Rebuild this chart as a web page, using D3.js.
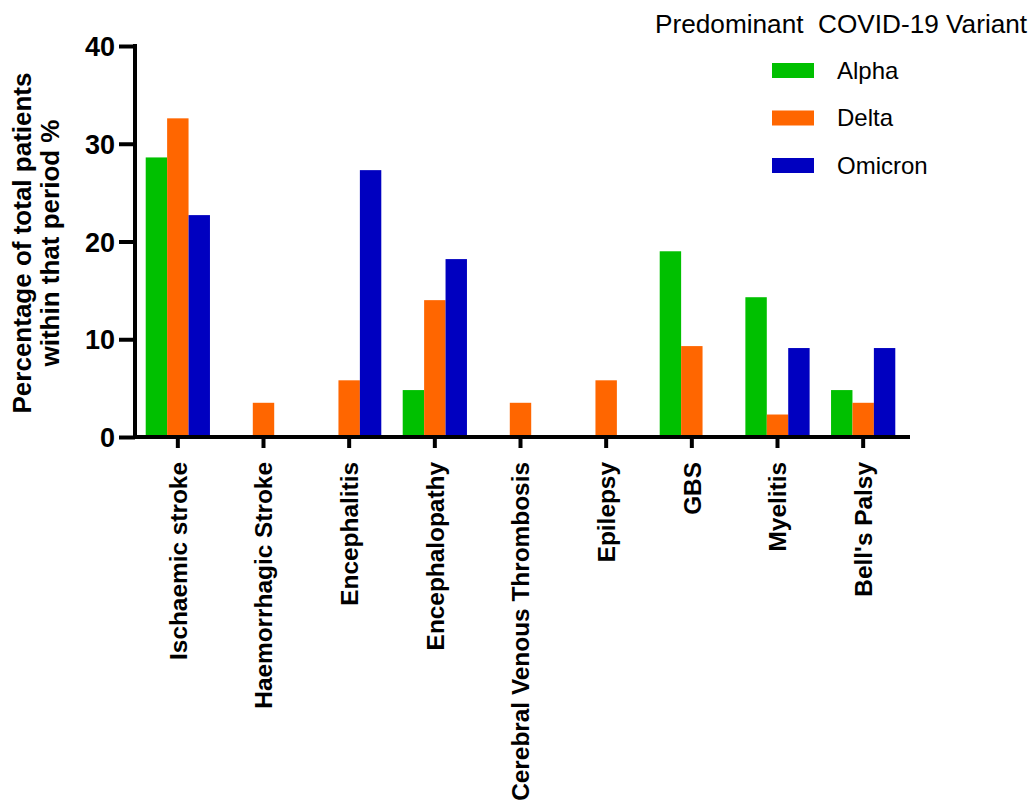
<!DOCTYPE html>
<html><head><meta charset="utf-8">
<script src="https://cdn.jsdelivr.net/npm/d3@7"></script>
<style>body{margin:0;background:#fff;} text{font-family:"Liberation Sans",Arial,sans-serif;}</style>
</head><body><svg id="c" width="1035" height="805"></svg>
<script>
const categories = ["Ischaemic stroke","Haemorrhagic Stroke","Encephalitis","Encephalopathy","Cerebral Venous Thrombosis","Epilepsy","GBS","Myelitis","Bell's Palsy"];
const seriesNames = ["Alpha","Delta","Omicron"];
const alpha = [28.6, 0, 0, 4.8, 0, 0, 19.0, 14.3, 4.8];
const delta = [32.6, 3.5, 5.8, 14.0, 3.5, 5.8, 9.3, 2.3, 3.5];
const omicron = [22.7, 0, 27.3, 18.2, 0, 0, 0, 9.1, 9.1];
const yTicks = [0, 10, 20, 30, 40];
const colors = ["#00C000", "#FF6600", "#0000C0"];
const legendTitle = "Predominant  COVID-19 Variant";
const yTitle = ["Percentage of total patients", "within that period %"];

const series = [alpha, delta, omicron];
const svg = d3.select("#c");
const pL = 135, pR = 906, pT = 46, pB = 437;

const x = d3.scaleBand().domain(categories).range([pL, pR]).paddingInner(0.25).paddingOuter(0.125);
const xs = d3.scaleBand().domain(seriesNames).range([0, x.bandwidth()]);
const y = d3.scaleLinear().domain([0, 40]).range([pB, pT]);

// bars
categories.forEach((c, i) => {
  series.forEach((s, j) => {
    if (s[i] > 0) {
      svg.append("rect")
        .attr("x", x(c) + xs(seriesNames[j]))
        .attr("y", y(s[i]))
        .attr("width", xs.bandwidth())
        .attr("height", y(0) - y(s[i]))
        .attr("fill", colors[j]);
    }
  });
});

// y axis
const ya = svg.append("g").attr("transform", `translate(${pL},0)`)
  .call(d3.axisLeft(y).tickValues(yTicks).tickSize(16).tickPadding(4).tickFormat(d3.format("d")));
ya.select(".domain").attr("stroke", "#000").attr("stroke-width", 4).attr("d", `M0,${pB+2}V${pT-2}`);
ya.selectAll(".tick line").attr("stroke", "#000").attr("stroke-width", 4);
ya.selectAll(".tick text").attr("font-size", 27).attr("font-weight", "bold").attr("fill", "#000")
  .attr("font-family", "Liberation Sans, Arial, sans-serif").attr("dy", "0.36em");

// x axis
const xa = svg.append("g").attr("transform", `translate(0,${pB})`)
  .call(d3.axisBottom(x).tickSize(11).tickPadding(8));
xa.select(".domain").attr("stroke", "#000").attr("stroke-width", 4).attr("d", `M${pL-2},0H${pR+4}`);
xa.selectAll(".tick line").attr("stroke", "#000").attr("stroke-width", 4);
xa.selectAll(".tick text")
  .attr("font-size", 24.4).attr("font-weight", "bold").attr("fill", "#000")
  .attr("font-family", "Liberation Sans, Arial, sans-serif")
  .attr("transform", "rotate(-90)")
  .attr("text-anchor", "end")
  .attr("x", -25).attr("y", 0).attr("dy", "0.36em");

// y title
const yt = svg.append("text").attr("transform", "translate(31,243) rotate(-90)")
  .attr("text-anchor", "middle").attr("font-size", 26).attr("font-weight", "bold");
yt.append("tspan").attr("x", 0).attr("y", 0).text(yTitle[0]);
yt.append("tspan").attr("x", 0).attr("y", 28).text(yTitle[1]);

// legend
svg.append("text").attr("x", 655).attr("y", 33).attr("font-size", 26.2)
  .style("white-space", "pre").text(legendTitle);
seriesNames.forEach((n, j) => {
  const yy = 63 + j * 47.5;
  svg.append("rect").attr("x", 772).attr("y", yy).attr("width", 42).attr("height", 15).attr("fill", colors[j]);
  svg.append("text").attr("x", 837).attr("y", yy + 15.5).attr("font-size", 24).text(n);
});
</script></body></html>
